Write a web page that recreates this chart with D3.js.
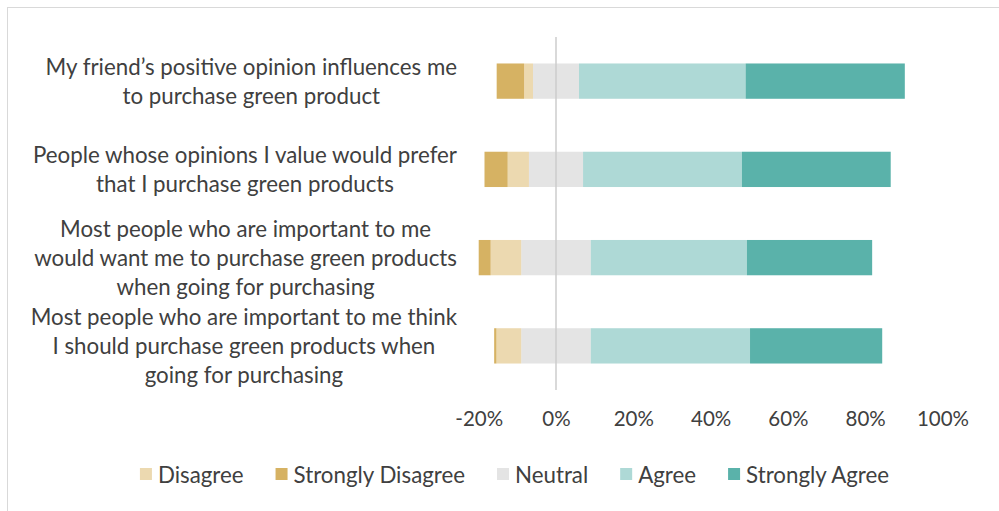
<!DOCTYPE html>
<html>
<head>
<meta charset="utf-8">
<script src="https://cdn.jsdelivr.net/npm/d3@7"></script>
<style>
  html, body { margin: 0; padding: 0; background: #fff; }
  svg { display: block; }
  text { font-family: Lato, "Open Sans", sans-serif; fill: #404040; }
</style>
</head>
<body>
<svg id="chart" width="999" height="511"></svg>
<script>
// ---------- data ----------
const categories = [
  ["My friend’s positive opinion influences me", "to purchase green product"],
  ["People whose opinions I value would prefer", "that I purchase green products"],
  ["Most people who are important to me", "would want me to purchase green products", "when going for purchasing"],
  ["Most people who are important to me think", "I should purchase green products when", "going for purchasing"]
];
const disagree          = [2.3, 5.5, 7.9, 6.4];
const stronglyDisagree  = [7.1, 6.0, 3.1, 0.6];
const neutral           = [11.9, 14.0, 18.0, 18.0];
const agree             = [43.1, 41.1, 40.4, 41.2];
const stronglyAgree     = [41.2, 38.5, 32.4, 34.2];
const tickValues = [-20, 0, 20, 40, 60, 80, 100];
const seriesNames = ["Disagree", "Strongly Disagree", "Neutral", "Agree", "Strongly Agree"];
const seriesColors = ["#ecd9b0", "#d6b263", "#e4e4e4", "#aed9d6", "#5ab2aa"];

// ---------- layout ----------
const svg = d3.select("#chart");
const plotTop = 37, plotBottom = 390;
const labelFont = 22.3;

// chart border (extends past the right/bottom edges as in reference)
svg.append("rect")
  .attr("x", 7.5).attr("y", 7.5)
  .attr("width", 1100).attr("height", 600)
  .attr("fill", "none").attr("stroke", "#d9d9d9").attr("stroke-width", 1);

const x = d3.scaleLinear().domain([-20, 100]).range([478.7, 942.5]);
const y = d3.scaleBand()
  .domain(d3.range(categories.length))
  .range([plotTop, plotBottom])
  .paddingInner(0.6).paddingOuter(0.3);

// build segments
const rows = categories.map((c, i) => {
  const n = neutral[i];
  const segs = [];
  const nL = -n / 2, nR = n / 2;
  segs.push({ s: 2, x0: nL, x1: nR });
  segs.push({ s: 0, x0: nL - disagree[i], x1: nL });
  segs.push({ s: 1, x0: nL - disagree[i] - stronglyDisagree[i], x1: nL - disagree[i] });
  segs.push({ s: 3, x0: nR, x1: nR + agree[i] });
  segs.push({ s: 4, x0: nR + agree[i], x1: nR + agree[i] + stronglyAgree[i] });
  return { i, segs };
});

const g = svg.append("g");
rows.forEach(r => {
  g.selectAll(null).data(r.segs).enter().append("rect")
    .attr("x", d => x(d.x0))
    .attr("width", d => Math.max(0, x(d.x1) - x(d.x0)))
    .attr("y", y(r.i))
    .attr("height", y.bandwidth())
    .attr("fill", d => seriesColors[d.s]);
});

// zero line
svg.append("line")
  .attr("x1", x(0)).attr("x2", x(0))
  .attr("y1", plotTop).attr("y2", plotBottom)
  .attr("stroke", "#cccccc").attr("stroke-width", 1.5);

// x axis labels
const xAxis = d3.axisBottom(x).tickValues(tickValues).tickSize(0).tickPadding(0)
  .tickFormat(d => d + "%");
const ax = svg.append("g").attr("transform", `translate(0, ${plotBottom + 21})`).call(xAxis);
ax.select(".domain").remove();
ax.selectAll("text")
  .attr("font-family", "Lato, 'Open Sans', sans-serif")
  .attr("font-size", 20.5)
  .attr("fill", "#404040")
  .attr("dy", "0.71em");

// category labels
const labelRight = 457, lineH = 29;
categories.forEach((lines, i) => {
  const cy = y(i) + y.bandwidth() / 2;
  const lg = svg.append("g");
  const texts = lines.map((ln, k) => lg.append("text")
    .attr("font-size", labelFont)
    .attr("text-anchor", "middle")
    .attr("dominant-baseline", "central")
    .attr("y", cy + (k - (lines.length - 1) / 2) * lineH)
    .text(ln));
  const maxW = d3.max(texts, t => t.node().getComputedTextLength());
  texts.forEach(t => t.attr("x", labelRight - maxW / 2));
});

// legend
const legY = 474, sq = 12, gapText = 6, gapItem = 32;
const leg = svg.append("g");
const items = seriesNames.map((name, k) => {
  const it = leg.append("g");
  it.append("rect").attr("width", sq).attr("height", sq).attr("y", legY - sq / 2).attr("fill", seriesColors[k]);
  const t = it.append("text").attr("font-size", labelFont).attr("x", sq + gapText).attr("y", legY)
    .attr("dominant-baseline", "central").text(name);
  return { it, w: sq + gapText + t.node().getComputedTextLength() };
});
const totalW = d3.sum(items, d => d.w) + gapItem * (items.length - 1);
let cx = 514.5 - totalW / 2;
items.forEach(d => { d.it.attr("transform", `translate(${cx},0)`); cx += d.w + gapItem; });
</script>
</body>
</html>
